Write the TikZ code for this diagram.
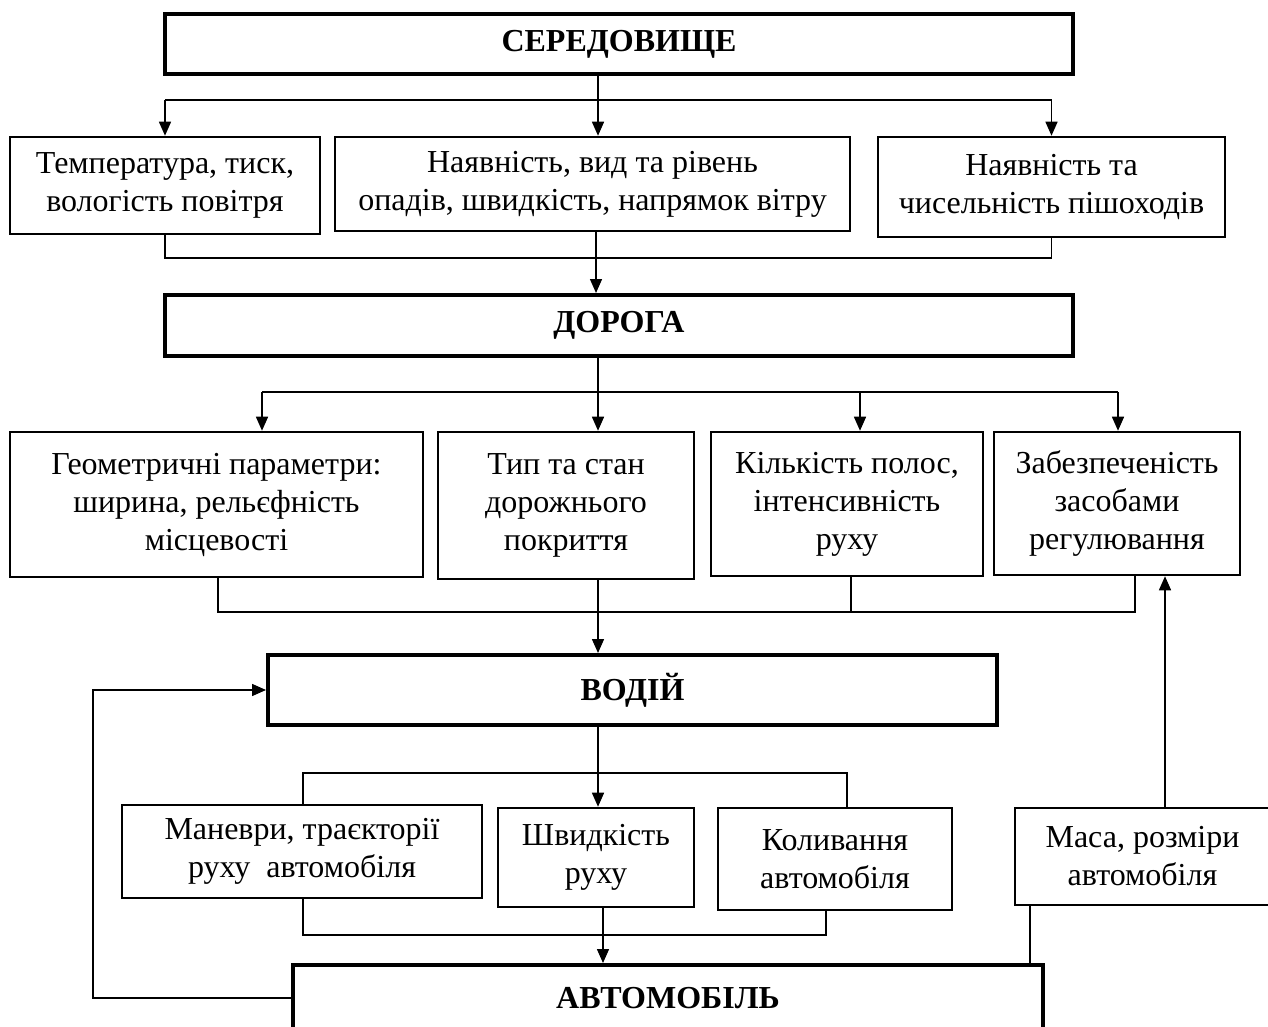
\documentclass[tikz,border=0pt]{standalone}
\usepackage{fontspec}
\setmainfont{Liberation Serif}
\usetikzlibrary{arrows.meta}
\begin{document}
\begin{tikzpicture}[x=0.75pt,y=-0.75pt,
  box/.style={draw, line width=1.9pt, inner sep=0pt, align=center, font=\fontsize{24}{28.5}\selectfont},
  mainbox/.style={box, line width=3pt, font=\fontsize{24}{28.5}\selectfont\bfseries},
  conn/.style={line width=1.1pt},
  arr/.style={conn, -{Triangle[length=10.5pt,width=9pt]}}]
\fill[white] (0,0) rectangle (1268,1027);
\useasboundingbox (0,0) rectangle (1268,1027);

\node[mainbox, minimum width=681pt, minimum height=45pt] (env) at (619,44) {СЕРЕДОВИЩЕ};
\node[box, minimum width=232.5pt, minimum height=72.75pt] (t1) at (165,185.5) {Температура, тиск,\\вологість повітря};
\node[box, minimum width=386.25pt, minimum height=70.5pt] (t2) at (592.5,184) {Наявність, вид та рівень\\опадів, швидкість, напрямок вітру};
\node[box, minimum width=260.25pt, minimum height=75pt] (t3) at (1051.5,187) {Наявність та\\чисельність пішоходів};

\node[mainbox, minimum width=681pt, minimum height=45.75pt] (road) at (619,325.5) {ДОРОГА};
\node[box, minimum width=309.75pt, minimum height=108.75pt] (r1) at (216.5,504.5) {Геометричні параметри:\\ширина, рельєфність\\місцевості};
\node[box, minimum width=192pt, minimum height=110.25pt] (r2) at (566,505.5) {Тип та стан\\дорожнього\\покриття};
\node[box, minimum width=204pt, minimum height=108pt] (r3) at (847,504) {Кількість полос,\\інтенсивність\\руху};
\node[box, minimum width=184.5pt, minimum height=107.25pt] (r4) at (1117,503.5) {Забезпеченість\\засобами\\регулювання};

\node[mainbox, minimum width=546.75pt, minimum height=52.5pt] (driver) at (632.5,690) {ВОДІЙ};
\node[box, minimum width=270pt, minimum height=69.75pt] (m1) at (302,851.5) {Маневри, траєкторії\\руху\ \ автомобіля};
\node[box, minimum width=147pt, minimum height=74.25pt] (m2) at (596,857.5) {Швидкість\\руху};
\node[box, minimum width=175.5pt, minimum height=76.5pt] (m3) at (835,859) {Коливання\\автомобіля};
\node[box, minimum width=191.25pt, minimum height=72.75pt] (mass) at (1142.5,856.5) {Маса, розміри\\автомобіля};

\node[mainbox, minimum width=562.5pt, minimum height=49.5pt] (car) at (668,998) {АВТОМОБІЛЬ};

% environment -> row 1
\coordinate (a0) at (598,100);
\draw[conn] (env.south -| a0) -- (a0);
\draw[conn] (a0 -| t1.north) -- (a0 -| t3.north);
\draw[arr] (a0 -| t1.north) -- (t1.north);
\draw[arr] (a0) -- (a0 |- t2.north);
\draw[arr] (a0 -| t3.north) -- (t3.north);

% row 1 -> road
\coordinate (a1) at (596,258);
\draw[conn] (t1.south) -- (t1.south |- a1) -- (t3.south |- a1) -- (t3.south);
\draw[arr] (a1 |- t2.south) -- (a1 |- road.north);

% road -> row 2
\coordinate (a2) at (598,392);
\coordinate (d1) at (262,392);
\coordinate (d3) at (860,392);
\coordinate (d4) at (1118,392);
\draw[conn] (road.south -| a2) -- (a2);
\draw[conn] (d1) -- (d4);
\draw[arr] (d1) -- (d1 |- r1.north);
\draw[arr] (a2) -- (a2 |- r2.north);
\draw[arr] (d3) -- (d3 |- r3.north);
\draw[arr] (d4) -- (d4 |- r4.north);

% row 2 -> driver
\coordinate (c1) at (218,612);
\coordinate (c3) at (851,612);
\coordinate (c4) at (1135,612);
\coordinate (a3) at (598,612);
\draw[conn] (c1 |- r1.south) -- (c1) -- (c4) -- (c4 |- r4.south);
\draw[conn] (c3 |- r3.south) -- (c3);
\draw[arr] (a3 |- r2.south) -- (a3 |- driver.north);

% driver -> row 3
\coordinate (e1) at (303,773);
\coordinate (e3) at (847,773);
\coordinate (a4) at (598,773);
\draw[conn] (e1 |- m1.north) -- (e1) -- (e3) -- (e3 |- m3.north);
\draw[arr] (driver.south -| a4) -- (a4 |- m2.north);

% row 3 -> car
\coordinate (f1) at (303,935);
\coordinate (f3) at (826,935);
\coordinate (a5) at (603,935);
\draw[conn] (f1 |- m1.south) -- (f1) -- (f3) -- (f3 |- m3.south);
\draw[arr] (a5 |- m2.south) -- (a5 |- car.north);

% mass
\coordinate (g1) at (1165,0);
\coordinate (g2) at (1030,0);
\draw[arr] (g1 |- mass.north) -- (g1 |- r4.south);
\draw[conn] (g2 |- mass.south) -- (g2 |- car.north);

% feedback car -> driver
\coordinate (h) at (93,0);
\draw[arr] (car.west) -- (car.west -| h) -- (driver.west -| h) -- (driver.west);
\end{tikzpicture}
\end{document}
